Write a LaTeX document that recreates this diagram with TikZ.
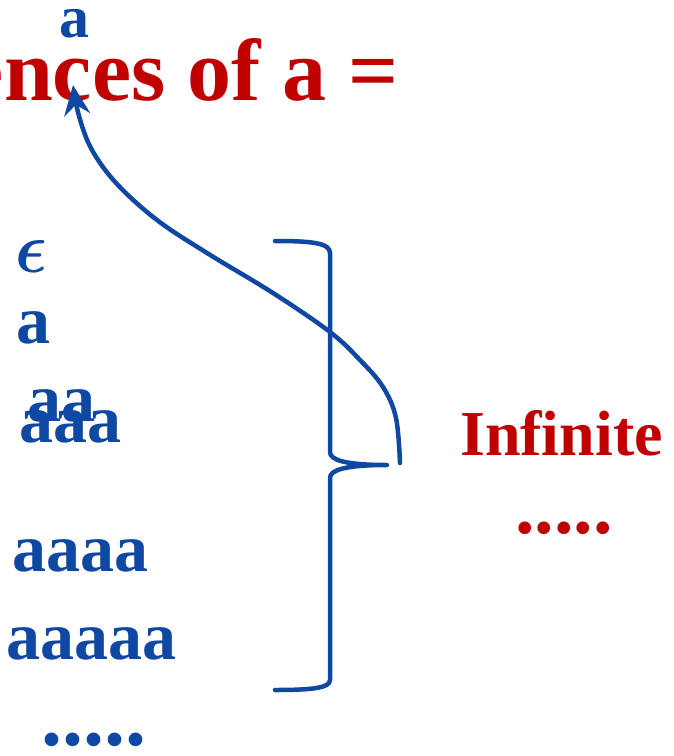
\documentclass[tikz,border=0pt]{standalone}
\usepackage{amsmath}
\usepackage{fontspec}
\setmainfont{Liberation Serif}
\usetikzlibrary{arrows.meta}
\definecolor{myblue}{RGB}{14,72,162}
\definecolor{myred}{RGB}{192,0,0}
\tikzset{
  btext/.style={inner sep=0pt, anchor=base west, text=myblue, font=\fontsize{68}{68}\selectfont\bfseries},
  rtext/.style={inner sep=0pt, text=myred, font=\fontsize{64}{64}\selectfont\bfseries},
  bline/.style={draw=myblue, line width=4.5pt, line cap=round, line join=round},
}
\begin{document}
\begin{tikzpicture}[x=1pt,y=-1pt]
\useasboundingbox (0,0) rectangle (673,756);
% title (cropped)
\node[inner sep=0pt, anchor=base east, text=myred, font=\fontsize{88}{88}\selectfont\bfseries] (title) at (399,100) {ences of a =};
\node[btext, font=\fontsize{60}{60}\selectfont\bfseries] (topa) at (59,37) {a};
% list
\node[btext, font=\normalsize] (eps) at (15,272) {\scalebox{6.6}[7.2]{$\boldsymbol{\epsilon}$}};
\node[btext] (a1) at (16,343) {a};
\node[btext] (a2) at (27,421) {aa};
\node[btext] (a3) at (19,442) {aaa};
\node[btext] (a4) at (12,571) {aaaa};
\node[btext] (a5) at (6,659) {aaaaa};
\node[btext, font=\fontsize{84}{84}\selectfont\bfseries] (bdots) at (41,745) {.....};
% right side
\node[rtext, anchor=base west] (inf) at (460,455) {Infinite};
\node[rtext, anchor=base west, font=\fontsize{78}{78}\selectfont\bfseries] (rdots) at (515,533) {.....};
% brace
\coordinate (btop) at (275,241);
\coordinate (btip) at (387,465);
\coordinate (bbot) at (275,690);
\draw[bline] (btop) .. controls (312,241) and (330,243) .. (330,253) -- (330,452)
  .. controls (330,460) and (345,465) .. (btip)
  .. controls (345,465) and (330,470) .. (330,478) -- (330,680)
  .. controls (330,688) and (312,690) .. (bbot);
% arrow
\coordinate (astart) at (400,463);
\coordinate (aend) at (73,85);
\draw[bline, -{Stealth[length=30pt,width=26pt,inset=10pt]}] plot[smooth, tension=0.6] coordinates {(astart) (396,418) (383,387) (360,360) (330,332) (273,293) (207,253) (157,220) (117,184) (92,150) (79,116) (aend)};
\end{tikzpicture}
\end{document}
